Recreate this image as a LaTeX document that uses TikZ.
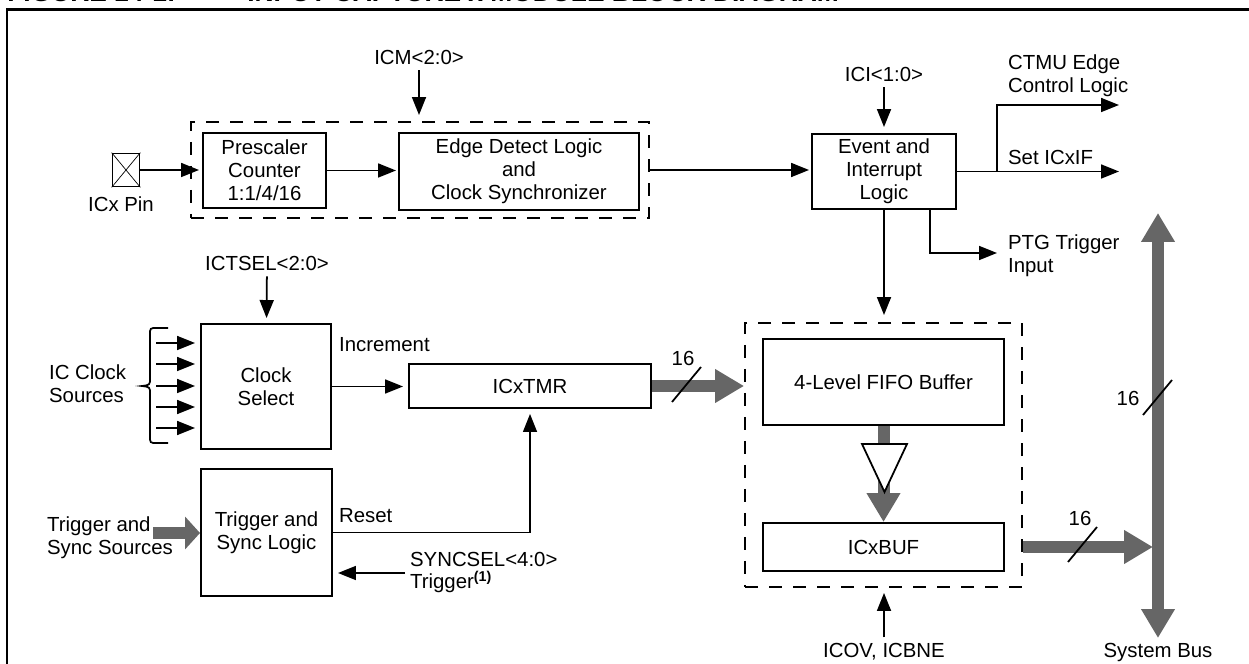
\documentclass[tikz,border=0pt]{standalone}
\usepackage{fontspec}
\setmainfont{Liberation Sans}
\usetikzlibrary{arrows.meta, positioning}
\definecolor{busgray}{HTML}{666666}

\tikzset{
  blk/.style={draw, line width=1.1pt, align=center, inner sep=1pt},
  grp/.style={draw, line width=1.1pt, dash pattern=on 2.6mm off 2.2mm},
  sig/.style={-{Triangle[length=3.6mm,width=2.8mm]}, line width=1pt},
  wide/.style={line width=2.4mm, busgray, -{Triangle[length=5.8mm,width=6.4mm]}},
  slash/.style={line width=1pt},
  lbl/.style={inner sep=1pt, align=left},
}

\begin{document}
\begin{tikzpicture}[x=0.2mm, y=-0.2mm, font=\fontsize{11.6}{13}\selectfont]
  \useasboundingbox (0,0) rectangle (1249,664);
  % Titulek (oriznuty okrajem)
  \node[anchor=base west, inner sep=0, font=\bfseries\fontsize{15}{18}\selectfont] (fignum) at (7,2) {FIGURE 14-1:};
  \node[anchor=base west, inner sep=0, font=\bfseries\fontsize{15}{18}\selectfont] (figtitle) at (247,2) {INPUT CAPTURE x MODULE BLOCK DIAGRAM};
  \draw[line width=1.7pt] (7,700) -- (7,10) -- (1300,10);

  % Vstup ICx
  \node[draw, line width=1pt, minimum width=5.4mm, minimum height=6.6mm] (pin) at (126,170) {};
  \draw (pin.north west) -- (pin.south east) (pin.north east) -- (pin.south west);
  \node (pinlbl) at (121,204) {ICx Pin};
  \node[grp, minimum width=91.6mm, minimum height=19.2mm] (cap) at (420,170) {};
  \node[blk, minimum width=24.6mm, minimum height=15mm] (pre) at (264.5,170.5) {Prescaler\\Counter\\1:1/4/16};
  \node[blk, minimum width=48mm, minimum height=15.4mm] (edge) at (519,171.5) {Edge Detect Logic\\and\\Clock Synchronizer};
  \node (icm) at (419,57) {ICM<2:0>};
  \draw[sig, shorten >=1.2mm] (icm) -- (icm |- cap.north);
  \draw[sig, shorten >=0.6mm] (pin) -- (pin -| pre.west);
  \draw[sig, shorten >=0.4mm] (pre.east) -- (pre.east -| edge.west);

  % Udalosti a preruseni
  \node[blk, minimum width=28.8mm, minimum height=15mm] (ev) at (884,171.5) {Event and\\Interrupt\\Logic};
  \node (ici) at (884,74) {ICI<1:0>};
  \draw[sig, shorten >=1.2mm] (ici) -- (ev);
  \draw[sig, shorten >=0.4mm] (cap.east) -- (cap.east -| ev.west);
  \coordinate (setif) at (1119,171.5);
  \coordinate (ctmu) at (1119,105);
  \coordinate (split) at (997,171.5);
  \coordinate (ptg) at (997,253);
  \draw[sig] (ev.east) -- (setif);
  \draw[sig] (split) |- (ctmu);
  \draw[sig] ([xshift=9.2mm]ev.south) |- (ptg);
  \node[lbl, anchor=west] (ctmulbl) at (1006,76) {CTMU Edge\\Control Logic};
  \node[lbl, anchor=west] (setiflbl) at (1006,157) {Set ICxIF};
  \node[lbl, anchor=west] (ptglbl) at (1006,256) {PTG Trigger\\Input};

  % FIFO
  \node[grp, minimum width=55.4mm, minimum height=52.8mm] (fbox) at (883.5,455) {};
  \node[blk, minimum width=48.2mm, minimum height=17.2mm] (fifo) at (883.5,382) {4-Level FIFO Buffer};
  \node[blk, minimum width=48.2mm, minimum height=9.6mm] (buf) at (883.5,547) {ICxBUF};
  \draw[sig, shorten >=1.4mm] (ev) -- (ev |- fbox.north);
  \draw[wide] (fifo.south) -- (buf.north);
  \draw[line width=1pt, fill=white] (862,444) -- (907,444) -- (884.5,492) -- cycle;
  \node (icov) at (884,652) {ICOV, ICBNE};
  \draw[sig, shorten >=1mm] (icov) -- (icov |- fbox.south);

  % Vyber hodin
  \node (ictsel) at (267,263) {ICTSEL<2:0>};
  \node[blk, minimum width=26mm, minimum height=25mm] (clk) at (266,386.5) {Clock\\Select};
  \draw[sig, shorten >=1mm] (ictsel) -- (clk);
  \foreach \y in {343,364,386,407,428}
    \draw[sig, shorten >=1mm] (156,\y) -- (clk.west |- 0,\y);
  \draw[line width=1pt] (168,328) -- (157,328) .. controls (150,328) .. (150,335) -- (150,378)
    .. controls (150,385) .. (142,386) .. controls (150,387) .. (150,394) -- (150,436)
    .. controls (150,443) .. (157,443) -- (168,443);
  \node[lbl, anchor=west] (clksrc) at (47,383.5) {IC Clock\\Sources};
  \node[blk, minimum width=48.4mm, minimum height=8.8mm] (tmr) at (530,386) {ICxTMR};
  \draw[sig, shorten >=1mm] (clk.east) -- (clk.east -| tmr.west);
  \node[lbl, anchor=west] (inclbl) at (337,345) {Increment};

  % Spousteni a synchronizace
  \node[blk, minimum width=26.2mm, minimum height=25.4mm] (trig) at (266.5,532.5) {Trigger and\\Sync Logic};
  \node[lbl, anchor=west] (trigsrc) at (45,538) {Trigger and\\Sync Sources};
  \coordinate (tsrc) at (153,533);
  \draw[wide, -{Triangle[length=3mm,width=6.4mm]}] (tsrc) -- (tsrc -| trig.west);
  \draw[sig, line width=0.8pt, shorten >=1mm] (trig.east) -| (tmr.south);
  \node[lbl, anchor=west] (rstlbl) at (337,516) {Reset};
  \coordinate (sync) at (405,573);
  \draw[sig, shorten >=1mm] (sync) -- (sync -| trig.east);
  \node[lbl, anchor=west] (synclbl) at (408,572.5) {SYNCSEL<4:0>\\Trigger\textsuperscript{\textbf{(1)}}};

  % Sbernice
  \coordinate (bustop) at (1158,213);
  \coordinate (busbot) at (1158,638);
  \draw[wide] (tmr.east) -- (tmr.east -| fbox.west);
  \draw[slash] (672,402) -- (701,367);
  \node (w1) at (683,358) {16};
  \draw[wide, shorten >=1mm] (buf.east -| fbox.east) -- (buf.east -| bustop);
  \draw[slash] (1068,562) -- (1097,527);
  \node (w2) at (1080,518) {16};
  \draw[wide, {Triangle[length=5.8mm,width=6.4mm]}-{Triangle[length=5.8mm,width=6.4mm]}] (bustop) -- (busbot);
  \draw[slash] (1143,415) -- (1172,380);
  \node (w3) at (1128,398) {16};
  \node (buslbl) at (1158,652) {System Bus};
\end{tikzpicture}
\end{document}
